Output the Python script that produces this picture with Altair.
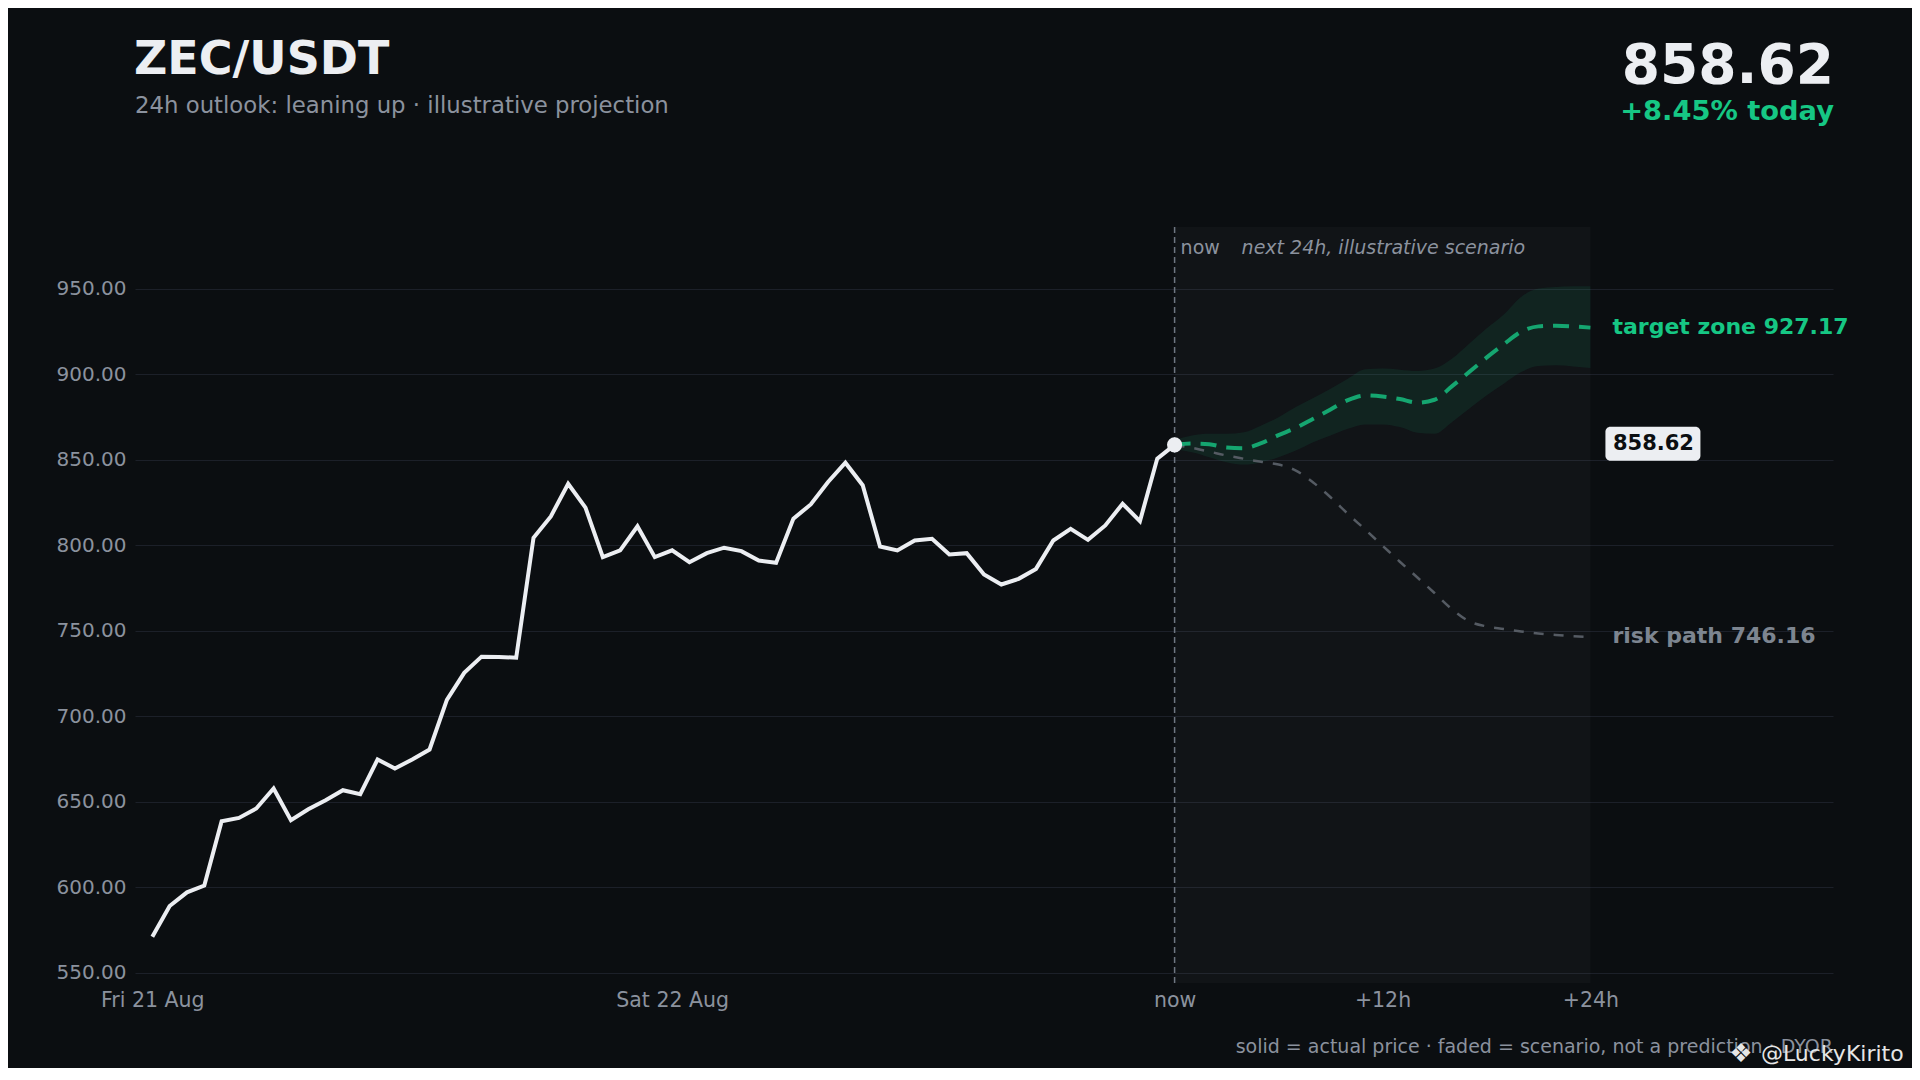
import altair as alt
import pandas as pd

# ---------------- data ----------------
past_price = [571.0, 589.0, 597.0, 601.0, 638.6, 640.5, 646.0, 657.7, 639.2, 645.6,
              650.9, 656.7, 654.4, 674.7, 669.4, 674.7, 680.5, 709.5, 725.3, 734.8,
              734.6, 734.2, 804.3, 816.8, 835.9, 821.9, 793.0, 796.9, 811.0, 793.0,
              797.0, 790.0, 795.3, 798.5, 796.5, 791.0, 789.7, 815.5, 823.8, 836.9,
              848.2, 835.0, 799.2, 796.9, 802.7, 803.7, 794.5, 795.3, 782.8, 777.0,
              780.3, 786.1, 802.7, 809.5, 803.1, 811.5, 824.2, 814.0, 850.6, 858.62]
past_hours = list(range(-59, 1))

future_hours = list(range(0, 25))
target_path = [858.62, 859.4, 859.0, 857.1, 856.7, 859.6, 864.3, 868.6, 873.9, 879.3,
               884.8, 887.5, 886.9, 885.4, 883.3, 885.0, 892.8, 901.2, 909.6, 917.4,
               924.8, 927.9, 928.3, 927.9, 927.17]
band_upper = [861.5, 864.1, 865.1, 865.1, 866.0, 870.0, 874.8, 880.7, 886.0, 891.5,
              897.3, 902.8, 903.2, 902.6, 901.8, 903.2, 909.0, 917.8, 926.6, 934.8,
              945.1, 950.0, 950.9, 951.3, 951.3]
band_lower = [856.0, 854.3, 851.4, 848.5, 847.1, 848.5, 851.4, 855.3, 860.2, 864.1,
              868.0, 870.6, 870.6, 869.0, 865.7, 865.1, 871.9, 879.7, 887.5, 894.4,
              901.2, 904.7, 905.1, 904.5, 903.5]
risk_path = [858.62, 856.9, 854.7, 852.4, 850.5, 848.7, 847.1, 843.6, 836.6, 828.0,
             818.3, 809.1, 799.7, 790.3, 781.2, 772.0, 762.6, 755.5, 752.5, 751.0,
             749.5, 748.3, 747.5, 746.8, 746.16]

x_tick_values = [-59, -29, 0, 12, 24]
x_tick_labels = ["Fri 21 Aug", "Sat 22 Aug", "now", "+12h", "+24h"]
y_tick_values = [550, 600, 650, 700, 750, 800, 850, 900, 950]

symbol = "ZEC/USDT"
subtitle = "24h outlook: leaning up \u00b7 illustrative projection"
last_price = past_price[-1]
change_today = "+8.45% today"
footer = "solid = actual price \u00b7 faded = scenario, not a prediction \u00b7 DYOR"
watermark = "@LuckyKirito"

# ---------------- styling ----------------
BG = "#0b0e11"
WHITE = "#eceef2"
MUTED = "#8b929e"
GREEN = "#16c784"
RISK = "#555b63"
RISK_TXT = "#7d8590"
GRID = "#1c2029"
FONT = "DejaVu Sans"

PLOT_W, PLOT_H = 1698, 756
X_DOMAIN = [-60, 38]
Y_DOMAIN = [544, 986]

past_df = pd.DataFrame({"h": past_hours, "price": past_price})
fut_df = pd.DataFrame({"h": future_hours, "target": target_path, "upper": band_upper,
                       "lower": band_lower, "risk": risk_path})

label_expr = ""
for v, t in zip(x_tick_values, x_tick_labels):
    label_expr += f"datum.value === {v} ? '{t}' : "
label_expr += "''"

xs = alt.Scale(domain=X_DOMAIN, nice=False, zero=False)
ys = alt.Scale(domain=Y_DOMAIN, nice=False, zero=False)

x_axis = alt.Axis(values=x_tick_values, labelExpr=label_expr, grid=False, ticks=False,
                  domain=False, title=None, labelFontSize=20.5, labelColor=MUTED,
                  labelPadding=7, labelFlush=False, labelFont=FONT)
y_axis = alt.Axis(values=y_tick_values, format=".2f", grid=True, gridColor=GRID,
                  gridWidth=1, ticks=False, domain=False, title=None, labelFontSize=20,
                  labelColor=MUTED, labelPadding=9, labelFont=FONT)


def X(field):
    return alt.X(field, scale=xs, axis=x_axis)


def Y(field):
    return alt.Y(field, scale=ys, axis=y_axis)


# future shaded region
shade = alt.Chart(pd.DataFrame({"start": [future_hours[0]], "end": [future_hours[-1]]})).mark_rect(
    fill="#ffffff", opacity=0.028
).encode(x=X("start:Q"), x2="end:Q")

# dashed "now" rule
now_rule = alt.Chart(pd.DataFrame({"h": [0]})).mark_rule(
    color="#6e7681", strokeWidth=1.5, strokeDash=[6, 4]
).encode(x=X("h:Q"))

band = alt.Chart(fut_df).mark_area(interpolate="monotone", color=GREEN, opacity=0.09).encode(
    x=X("h:Q"), y=Y("upper:Q"), y2="lower:Q"
)

risk_line = alt.Chart(fut_df).mark_line(
    interpolate="monotone", color=RISK, strokeWidth=2.5, strokeDash=[10, 10]
).encode(x=X("h:Q"), y=Y("risk:Q"))

target_line = alt.Chart(fut_df).mark_line(
    interpolate="monotone", color=GREEN, opacity=0.8, strokeWidth=4, strokeDash=[16, 10]
).encode(x=X("h:Q"), y=Y("target:Q"))

price_line = alt.Chart(past_df).mark_line(color=WHITE, strokeWidth=4).encode(
    x=X("h:Q"), y=Y("price:Q")
)

dot = alt.Chart(pd.DataFrame({"h": [past_hours[-1]], "price": [last_price]})).mark_circle(
    size=230, color=WHITE, opacity=1
).encode(x=X("h:Q"), y=Y("price:Q"))

# end labels
end_df = pd.DataFrame({
    "h": [future_hours[-1], future_hours[-1]],
    "price": [target_path[-1], risk_path[-1]],
    "label": [f"target zone {target_path[-1]:.2f}", f"risk path {risk_path[-1]:.2f}"],
    "col": [GREEN, RISK_TXT],
})
end_labels = alt.Chart(end_df).mark_text(
    align="left", baseline="middle", dx=22, dy=-1, fontSize=22, fontWeight="bold", font=FONT
).encode(
    x=X("h:Q"), y=Y("price:Q"), text="label:N",
    color=alt.Color("col:N", scale=None, legend=None),
)

box_df = pd.DataFrame({"h": [future_hours[-1]], "price": [last_price], "label": [f"{last_price:.2f}"]})
price_box = alt.Chart(box_df).mark_rect(
    fill=WHITE, cornerRadius=5, xOffset=15, x2Offset=110, yOffset=-18, y2Offset=16
).encode(x=X("h:Q"), x2="h:Q", y=Y("price:Q"), y2="price:Q")
price_box_text = alt.Chart(box_df).mark_text(
    align="center", baseline="middle", dx=63, dy=-1, fontSize=21, fontWeight="bold",
    color=BG, font=FONT
).encode(x=X("h:Q"), y=Y("price:Q"), text="label:N")

# "now" header inside the projection area
hdr_df = pd.DataFrame({"h": [0, 0], "label": ["now", "next 24h, illustrative scenario"]})
hdr_now = alt.Chart(hdr_df.iloc[[0]]).mark_text(
    align="left", baseline="middle", dx=6, fontSize=19, color=MUTED, font=FONT
).encode(x=X("h:Q"), y=alt.value(21), text="label:N")
hdr_next = alt.Chart(hdr_df.iloc[[1]]).mark_text(
    align="left", baseline="middle", dx=67, fontSize=19, color=MUTED, font=FONT,
    fontStyle="italic"
).encode(x=X("h:Q"), y=alt.value(21), text="label:N")


def pixel_text(txt, x, y, **kw):
    return alt.Chart(pd.DataFrame({"t": [txt]})).mark_text(font=FONT, **kw).encode(
        x=alt.value(x), y=alt.value(y), text="t:N"
    )


title_t = pixel_text(symbol, -1, -153, align="left", baseline="alphabetic", fontSize=46,
                     fontWeight="bold", color=WHITE)
sub_t = pixel_text(subtitle, 0, -114, align="left", baseline="alphabetic", fontSize=22.8,
                   color=MUTED)
big_price = pixel_text(f"{last_price:.2f}", 1699, -144, align="right", baseline="alphabetic",
                       fontSize=55, fontWeight="bold", color=WHITE)
chg_t = pixel_text(change_today, 1699, -107, align="right", baseline="alphabetic",
                   fontSize=27.3, fontWeight="bold", color=GREEN)
footer_t = pixel_text(footer, 1698, 826, align="right", baseline="alphabetic",
                      fontSize=19, color=MUTED)
logo_t = pixel_text("\u2756", 1606, 835, align="center", baseline="alphabetic",
                    fontSize=26, color="#e6e6e6")
wm_t = pixel_text(watermark, 1626, 834, align="left", baseline="alphabetic",
                  fontSize=22, color="#e6e6e6")

chart = alt.layer(
    shade, now_rule, band, risk_line, target_line, price_line, dot,
    end_labels, price_box, price_box_text, hdr_now, hdr_next,
    title_t, sub_t, big_price, chg_t, footer_t, logo_t, wm_t,
).properties(
    width=PLOT_W,
    height=PLOT_H,
    padding={"left": 127, "top": 219, "right": 79, "bottom": 85},
    autosize=alt.AutoSizeParams(type="none"),
    background=BG,
).configure(
    font=FONT
).configure_view(
    stroke=None
)

chart.save("out.html", embed_options={"renderer": "svg", "actions": False})
